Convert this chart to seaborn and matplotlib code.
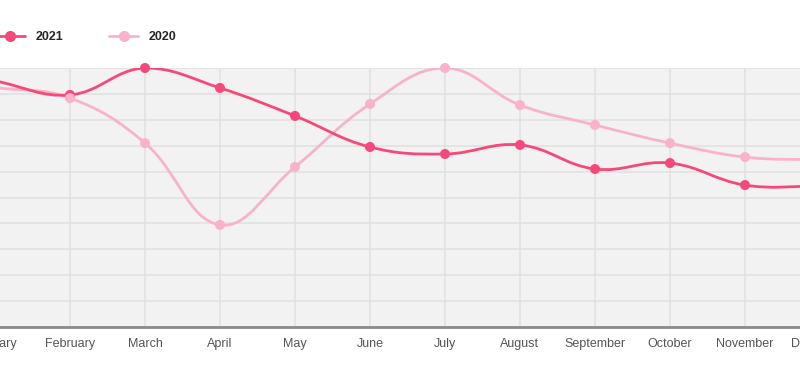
import numpy as np
import pandas as pd
import matplotlib.pyplot as plt
import matplotlib.path as mpath
import matplotlib.patches as mpatches
from matplotlib.lines import Line2D
import seaborn as sns

# --- data --------------------------------------------------------------------
months = ["January", "February", "March", "April", "May", "June", "July",
          "August", "September", "October", "November", "December"]
values_2021 = [9.5, 8.96, 10.0, 9.23, 8.15, 6.95, 6.68, 7.03, 6.1, 6.33, 5.48, 5.44]
values_2020 = [9.25, 8.84, 7.1, 3.94, 6.18, 8.61, 10.0, 8.57, 7.8, 7.1, 6.56, 6.45]
series_labels = ["2021", "2020"]

COLOR_2021 = "#f5497b"
COLOR_2020 = "#f9b3c8"
Y_MIN, Y_MAX = 0, 10

sns.set_style("white")
plt.rcParams["font.family"] = ["Liberation Sans", "DejaVu Sans"]


def smooth_path(xs, ys, sx, sy, tension=0.4):
    """Chart.js-like bezier through the points (control points in pixel space)."""
    pts = np.column_stack([np.asarray(xs, float) * sx, np.asarray(ys, float) * sy])
    n = len(pts)
    prev_cp, next_cp = [], []
    for i in range(n):
        p0 = pts[max(i - 1, 0)]
        p1 = pts[i]
        p2 = pts[min(i + 1, n - 1)]
        d01 = np.hypot(*(p1 - p0))
        d12 = np.hypot(*(p2 - p1))
        tot = d01 + d12
        s01 = d01 / tot if tot else 0
        s12 = d12 / tot if tot else 0
        prev_cp.append(p1 - tension * s01 * (p2 - p0))
        next_cp.append(p1 + tension * s12 * (p2 - p0))
    verts = [pts[0]]
    codes = [mpath.Path.MOVETO]
    for i in range(n - 1):
        verts += [next_cp[i], prev_cp[i + 1], pts[i + 1]]
        codes += [mpath.Path.CURVE4] * 3
    verts = np.array(verts) / [sx, sy]
    verts[:, 1] = np.clip(verts[:, 1], Y_MIN, Y_MAX)
    return mpath.Path(verts, codes)


fig = plt.figure(figsize=(8, 3.7), dpi=100)
ax = fig.add_axes([-5 / 800, 43 / 370, 825 / 800, 259 / 370])
ax.set_facecolor("#f2f2f2")

x = np.arange(len(months))
for vals, color in [(values_2020, COLOR_2020), (values_2021, COLOR_2021)]:
    patch = mpatches.PathPatch(smooth_path(x, vals, 75, 25.9), fill=False,
                               edgecolor=color, lw=2.0, zorder=3)
    ax.add_patch(patch)

df = pd.DataFrame({
    "month": np.concatenate([x, x]),
    "value": values_2021 + values_2020,
    "year": [series_labels[0]] * len(x) + [series_labels[1]] * len(x),
})
sns.scatterplot(data=df, x="month", y="value", hue="year",
                palette={"2021": COLOR_2021, "2020": COLOR_2020},
                s=52, linewidth=0, legend=False, ax=ax, zorder=4, clip_on=False)

ax.set_xlim(0, len(months) - 1)
ax.set_ylim(Y_MIN, Y_MAX)
ax.set_xticks(x)
ax.set_xticklabels(months)
ax.set_yticks(np.arange(Y_MIN, Y_MAX + 1))
ax.set_yticklabels([])
ax.set_xlabel("")
ax.set_ylabel("")
ax.grid(True, color="#e0e0e0", lw=1.1)
ax.set_axisbelow(True)
ax.tick_params(axis="x", length=0, pad=8, labelsize=9, labelcolor="#555555")
ax.tick_params(axis="y", length=0)
for side in ["top", "left", "right"]:
    ax.spines[side].set_visible(False)
ax.spines["bottom"].set_color("#8a8a8a")
ax.spines["bottom"].set_linewidth(2)

handles = [Line2D([], [], color=c, lw=2, marker="o", ms=7)
           for c in (COLOR_2021, COLOR_2020)]
fig.legend(handles, series_labels, loc="center left",
           bbox_to_anchor=(-4 / 800, 1 - 37 / 370), ncol=2, frameon=False,
           borderpad=0, borderaxespad=0, handlelength=2.3, handletextpad=0.85,
           columnspacing=3.7, prop={"weight": "bold", "size": 9})

fig.savefig("out.png", dpi=100)
